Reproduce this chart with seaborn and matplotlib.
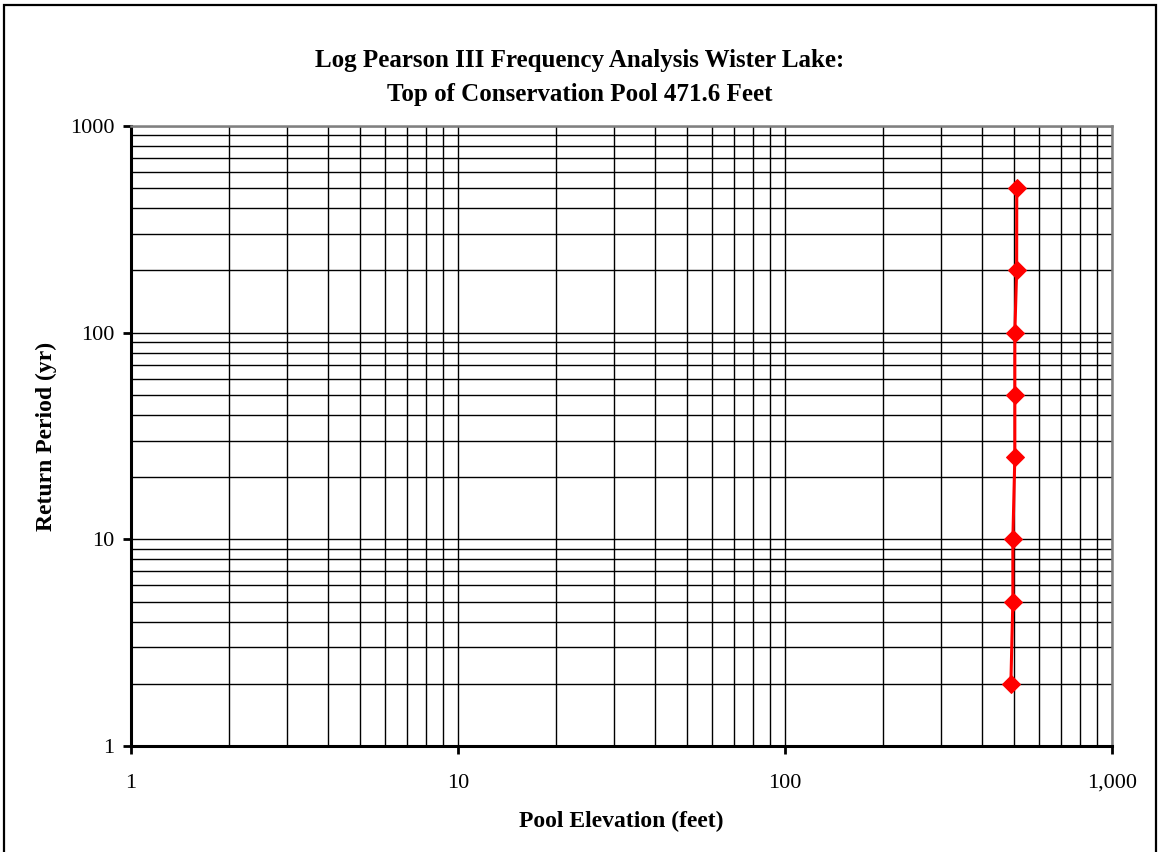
import matplotlib
matplotlib.use("Agg")
import matplotlib.pyplot as plt
from matplotlib.patches import Rectangle
from matplotlib.ticker import FixedLocator, FixedFormatter, NullFormatter, LogLocator
import seaborn as sns
import pandas as pd

# Frequency analysis results
return_period = [2, 5, 10, 25, 50, 100, 200, 500]
pool_elevation = [490.6, 497.5, 497.5, 504.5, 504.5, 504.5, 511.0, 511.4]

x_ticks = [1, 10, 100, 1000]
x_tick_labels = ["1", "10", "100", "1,000"]
y_ticks = [1, 10, 100, 1000]
y_tick_labels = ["1", "10", "100", "1000"]

title_lines = ["Log Pearson III Frequency Analysis Wister Lake:",
               "Top of Conservation Pool 471.6 Feet"]
x_label = "Pool Elevation (feet)"
y_label = "Return Period (yr)"

sns.set_style("white")
plt.rcParams["font.family"] = ["Liberation Serif", "DejaVu Serif"]
plt.rcParams["text.color"] = "black"
plt.rcParams["axes.labelcolor"] = "black"
plt.rcParams["xtick.color"] = "black"
plt.rcParams["ytick.color"] = "black"

df = pd.DataFrame({"elev": pool_elevation, "rp": return_period})

fig = plt.figure(figsize=(11.6, 8.52), dpi=100)
ax = fig.add_axes([131 / 1160, 1 - 746 / 852, (1112 - 131) / 1160, (746 - 126) / 852])

ax.set_xscale("log")
ax.set_yscale("log")
ax.set_xlim(1, 1000)
ax.set_ylim(1, 1000)

# Major and minor grid, all black
ax.xaxis.set_minor_locator(LogLocator(base=10, subs=range(2, 10)))
ax.yaxis.set_minor_locator(LogLocator(base=10, subs=range(2, 10)))
ax.grid(True, which="both", color="black", linewidth=1.0)
ax.set_axisbelow(True)

sns.lineplot(data=df, x="elev", y="rp", ax=ax, color="#ff0000", linewidth=2.2,
             marker="D", markersize=9, markeredgecolor="#ff0000",
             markerfacecolor="#ff0000", sort=False, estimator=None, zorder=5)

ax.xaxis.set_major_locator(FixedLocator(x_ticks))
ax.xaxis.set_major_formatter(FixedFormatter(x_tick_labels))
ax.yaxis.set_major_locator(FixedLocator(y_ticks))
ax.yaxis.set_major_formatter(FixedFormatter(y_tick_labels))
ax.xaxis.set_minor_formatter(NullFormatter())
ax.yaxis.set_minor_formatter(NullFormatter())

ax.tick_params(which="major", direction="out", length=6, width=2, color="black",
               labelcolor="black", labelsize=16, bottom=True, left=True)
ax.tick_params(axis="x", which="major", pad=14)
ax.tick_params(axis="y", which="major", pad=6)
ax.tick_params(which="minor", length=0)

for side in ["left", "bottom"]:
    ax.spines[side].set_color("black")
    ax.spines[side].set_linewidth(2.2)
for side in ["top", "right"]:
    ax.spines[side].set_color("#808080")
    ax.spines[side].set_linewidth(1.8)
    ax.spines[side].set_visible(True)

ax.set_xlabel(x_label, fontsize=17, fontweight="bold", labelpad=13, color="black")
ax.set_ylabel(y_label, fontsize=17, fontweight="bold", labelpad=9, color="black")

fig.text(0.5, 1 - 61 / 852, title_lines[0], ha="center", va="center",
         fontsize=18, fontweight="bold", color="black")
fig.text(0.5, 1 - 94 / 852, title_lines[1], ha="center", va="center",
         fontsize=18, fontweight="bold", color="black")

# Outer chart border
fig.patches.append(Rectangle((4 / 1160, -0.05), (1156 - 4) / 1160, 1.05 - 5 / 852,
                             transform=fig.transFigure, fill=False,
                             edgecolor="black", linewidth=1.6))

fig.savefig("out.png", dpi=100)
